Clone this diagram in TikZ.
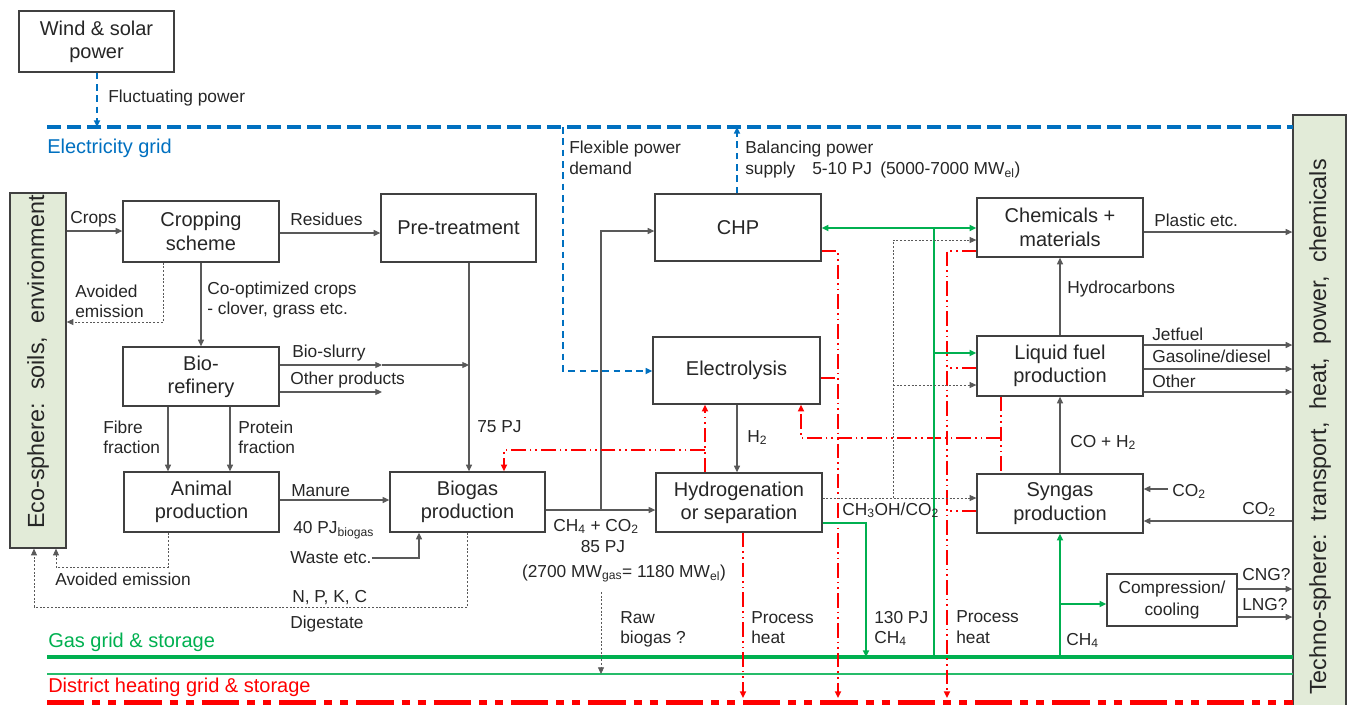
\documentclass[tikz,border=0pt]{standalone}
\usepackage{fontspec}
\setmainfont{Liberation Sans}
\usetikzlibrary{arrows.meta}
\definecolor{eblue}{HTML}{0070C0}
\definecolor{egreen}{HTML}{00B050}
\definecolor{ered}{HTML}{FF0000}
\definecolor{efill}{HTML}{E2EBD8}
\definecolor{etext}{HTML}{262626}
\definecolor{eline}{HTML}{595959}
\tikzset{
  box/.style={draw=black!75, line width=1pt, fill=white, inner sep=0pt, align=center,
    font=\fontsize{15}{17.5}\selectfont, text=etext},
  sphere/.style={box, fill=efill},
  lbl/.style={inner sep=0pt, anchor=base west, font=\fontsize{13}{15}\selectfont, text=etext},
  glbl/.style={inner sep=0pt, anchor=base west, font=\fontsize{15}{18}\selectfont},
  ln/.style={draw=eline, line width=0.8pt},
  arr/.style={-{Triangle[length=5pt,width=4.5pt]}},
  dotln/.style={draw=eline, line width=0.6pt, dash pattern=on 1.5pt off 1.3pt},
  blued/.style={draw=eblue, line width=1.2pt, dash pattern=on 5pt off 3.5pt},
  redd/.style={draw=ered, line width=1.5pt, dash pattern=on 11pt off 3pt on 1.2pt off 3pt on 1.2pt off 3pt},
  greenl/.style={draw=egreen, line width=1.5pt},
}
\begin{document}
\begin{tikzpicture}[x=0.75pt,y=-0.75pt]
\useasboundingbox (0,0) rectangle (1350,704);
\clip (0,0) rectangle (1350,704);

% ---------- boxes ----------
\node[box, minimum width=116.25pt, minimum height=45.75pt] (wind) at (96.5,41.5) {Wind \& solar\\power};
\node[box, minimum width=117pt, minimum height=45.75pt] (crop) at (201,231.5) {Cropping\\scheme};
\node[box, minimum width=116.25pt, minimum height=51pt] (pre) at (458.5,228) {Pre-treatment};
\node[box, minimum width=124.5pt, minimum height=50.25pt] (chp) at (738,227.5) {CHP};
\node[box, minimum width=124.5pt, minimum height=44.25pt] (chem) at (1060,227.5) {Chemicals +\\materials};
\node[box, minimum width=117pt, minimum height=44.25pt] (bioref) at (201,376.5) {Bio-\\refinery};
\node[box, minimum width=125.25pt, minimum height=50.25pt] (elec) at (736.5,370.5) {Electrolysis};
\node[box, minimum width=124.5pt, minimum height=45pt] (liquid) at (1060,366) {Liquid fuel\\production};
\node[box, minimum width=116.25pt, minimum height=45pt] (animal) at (201.5,502) {Animal\\production};
\node[box, minimum width=116.25pt, minimum height=45pt] (biogas) at (467.5,502) {Biogas\\production};
\node[box, minimum width=124.5pt, minimum height=44.25pt] (hydro) at (739,502.5) {Hydrogenation\\or separation};
\node[box, minimum width=124.5pt, minimum height=44.25pt] (syngas) at (1060,503.5) {Syngas\\production};
\node[box, minimum width=97.5pt, minimum height=39pt, font=\fontsize{13}{16}\selectfont] (comp) at (1172,600) {Compression/\\cooling};
\node[sphere, minimum width=42pt, minimum height=266.25pt] (eco) at (38,370.5) {};
\node[rotate=90, font=\fontsize{17.5}{20}\selectfont, text=etext] (ecot) at (38,362) {Eco-sphere:\ \ soils,\ \ environment};
\node[sphere, minimum width=39.75pt, minimum height=446.25pt] (techno) at (1319.5,412.5) {};
\node[rotate=90, font=\fontsize{17.5}{20}\selectfont, text=etext] (technot) at (1320,427) {Techno-sphere:\ \ transport,\ \ heat,\ \ power,\ \ chemicals};

% ---------- grids ----------
\coordinate (eg1) at (47,127); \coordinate (eg2) at (1293,127);
\draw[eblue, line width=3pt, dash pattern=on 10.5pt off 4.5pt] (eg1) -- (eg2);
\node[glbl, text=eblue] (egl) at (47,153) {Electricity grid};
\coordinate (gg1) at (47,657); \coordinate (gg2) at (1293,657);
\draw[egreen, line width=3pt] (gg1) -- (gg2);
\coordinate (gt1) at (47,674); \coordinate (gt2) at (1293,674);
\draw[egreen!85!white, line width=1.6pt] (gt1) -- (gt2);
\node[glbl, text=egreen] (ggl) at (48,647) {Gas grid \& storage};
\coordinate (dh1) at (47,707); \coordinate (dh2) at (1293,707);
\draw[ered, line width=10pt, dash pattern=on 28pt off 6pt on 6pt off 6pt on 6pt off 6pt] (dh1) -- (dh2);
\node[glbl, text=ered] (dhl) at (48,692) {District heating grid \& storage};

% ---------- electricity (blue) ----------
\draw[blued, arr] (wind.south -| 97,0) -- (eg1 -| 97,0);
\node[lbl] at (108,102) {Fluctuating power};
\draw[blued, arr] (eg1 -| 563,0) -- (563,371) -- (elec.west |- 0,371);
\node[lbl] at (569,153) {Flexible power};
\node[lbl] at (569,174) {demand};
\draw[blued, arr] (chp.north -| 737,0) -- (eg1 -| 737,0);
\node[lbl] at (745,153) {Balancing power};
\node[lbl] at (745,174) {supply};
\node[lbl] at (812,174) {5-10 PJ};
\node[lbl] at (880,174) {(5000-7000 MW\textsubscript{el})};

% ---------- left part ----------
\draw[ln, arr] (eco.east |- 0,231) -- (crop.west |- 0,231);
\node[lbl] at (70,223) {Crops};
\draw[ln, arr] (crop.east |- 0,233) -- (pre.west |- 0,233);
\node[lbl] at (290,225) {Residues};
\draw[ln, arr] (crop.south) -- (bioref.north);
\node[lbl] at (207,294) {Co-optimized crops};
\node[lbl] at (207,314) {- clover, grass etc.};
\draw[dotln, arr] (crop.south -| 163,0) -- (163,322) -- (eco.east |- 0,322);
\node[lbl] at (75,297) {Avoided};
\node[lbl] at (75,317) {emission};
\draw[ln, arr] (bioref.east |- 0,365) -- (382,365);
\draw[ln, arr] (382,365) -- (469,365);
\node[lbl] at (292,357) {Bio-slurry};
\draw[ln, arr] (bioref.east |- 0,392) -- (382,392);
\node[lbl] at (290,384) {Other products};
\draw[ln, arr] (pre.south -| 469,0) -- (biogas.north -| 469,0);
\node[lbl] at (477,432) {75 PJ};
\draw[ln, arr] (bioref.south -| 168,0) -- (animal.north -| 168,0);
\draw[ln, arr] (bioref.south -| 230,0) -- (animal.north -| 230,0);
\node[lbl] at (103,433) {Fibre};
\node[lbl] at (103,453) {fraction};
\node[lbl] at (238,433) {Protein};
\node[lbl] at (238,453) {fraction};
\draw[ln, arr] (animal.east |- 0,500) -- (biogas.west |- 0,500);
\node[lbl] at (291,496) {Manure};
\node[lbl] at (293,533) {40 PJ\textsubscript{biogas}};
\node[lbl] (waste) at (290,563) {Waste etc.};
\draw[ln, arr] (waste.east |- 0,558) -- (419,558) -- (biogas.south -| 419,0);
\draw[dotln, arr] (animal.south -| 168,0) -- (168,567) -- (56,567) -- (eco.south -| 56,0);
\node[lbl] at (55,585) {Avoided emission};
\draw[dotln, arr] (biogas.south) -- (biogas.south |- 0,607) -- (34,607) -- (eco.south -| 34,0);
\node[lbl] at (292,602) {N, P, K, C};
\node[lbl] at (290,628) {Digestate};

% ---------- biogas outputs ----------
\draw[ln, arr] (biogas.east |- 0,510) -- (hydro.west |- 0,510);
\draw[ln, arr] (601,510) -- (601,231) -- (chp.west |- 0,231);
\node[lbl] at (553,531) {CH\textsubscript{4} + CO\textsubscript{2}};
\node[lbl, anchor=base] at (603,552) {85 PJ};
\node[lbl, anchor=base] at (624,577) {(2700 MW\textsubscript{gas}= 1180 MW\textsubscript{el})};
\draw[dotln, arr] (601,592) -- (gt1 -| 601,0);
\node[lbl] at (620,623) {Raw};
\node[lbl] at (620,643) {biogas ?};
\draw[ln, arr] (elec.south -| 737,0) -- (hydro.north -| 737,0);
\node[lbl] at (747,442) {H\textsubscript{2}};

% ---------- heat (red) ----------
\draw[redd, arr] (hydro.north -| 705,0) -- (elec.south -| 705,0);
\draw[redd, arr] (705,450) -- (504,450) -- (biogas.north -| 504,0);
\draw[redd] (liquid.south -| 1001,0) -- (syngas.north -| 1001,0);
\draw[redd, arr] (1001,438) -- (801,438) -- (elec.south -| 801,0);
\draw[redd, arr] (chp.east |- 0,251) -- (838,251) -- (838,698);
\draw[redd] (elec.east |- 0,378) -- (838,378);
\draw[redd, arr] (hydro.south -| 743,0) -- (743,698);
\node[lbl] at (751,623) {Process};
\node[lbl] at (751,643) {heat};
\draw[redd, arr] (chem.west |- 0,251) -- (947,251) -- (947,698);
\draw[redd] (liquid.west |- 0,368) -- (947,368);
\draw[redd] (syngas.west |- 0,511) -- (947,511);
\node[lbl] at (956,622) {Process};
\node[lbl] at (956,643) {heat};

% ---------- methane (green) ----------
\draw[greenl, arr] (gg1 -| 934,0) -- (934,228) -- (chem.west |- 0,228);
\draw[greenl, arr] (934,228) -- (chp.east |- 0,228);
\draw[greenl, arr] (934,353) -- (liquid.west |- 0,353);
\draw[greenl, arr] (hydro.east |- 0,523) -- (866,523) -- (gg1 -| 866,0);
\node[lbl] at (874,623) {130 PJ};
\node[lbl] at (874,643) {CH\textsubscript{4}};
\draw[greenl, arr] (gg1 -| 1060,0) -- (syngas.south);
\draw[greenl, arr] (1060,604) -- (comp.west |- 0,604);
\node[lbl] at (1066,645) {CH\textsubscript{4}};

% ---------- methanol (dotted) ----------
\draw[dotln, arr] (hydro.east |- 0,498) -- (syngas.west |- 0,498);
\draw[dotln, arr] (893,498) -- (893,240) -- (chem.west |- 0,240);
\draw[dotln, arr] (893,385) -- (liquid.west |- 0,385);
\node[lbl] at (842,515) {CH\textsubscript{3}OH/CO\textsubscript{2}};

% ---------- right part ----------
\draw[ln, arr] (chem.east |- 0,232) -- (techno.west |- 0,232);
\node[lbl] at (1154,226) {Plastic etc.};
\draw[ln, arr] (liquid.north) -- (chem.south);
\node[lbl] at (1067,293) {Hydrocarbons};
\draw[ln, arr] (liquid.east |- 0,345) -- (techno.west |- 0,345);
\draw[ln, arr] (liquid.east |- 0,369) -- (techno.west |- 0,369);
\draw[ln, arr] (liquid.east |- 0,392) -- (techno.west |- 0,392);
\node[lbl] at (1152,340) {Jetfuel};
\node[lbl] at (1152,362) {Gasoline/diesel};
\node[lbl] at (1152,387) {Other};
\draw[ln, arr] (syngas.north) -- (liquid.south);
\node[lbl] at (1070,447) {CO + H\textsubscript{2}};
\node[lbl] (co2a) at (1172,496) {CO\textsubscript{2}};
\draw[ln, arr] (co2a.west |- 0,489) ++(-4,0) -- (syngas.east |- 0,489);
\draw[ln, arr] (techno.west |- 0,521) -- (syngas.east |- 0,521);
\node[lbl] at (1242,514) {CO\textsubscript{2}};
\draw[ln, arr] (comp.east |- 0,589) -- (techno.west |- 0,589);
\draw[ln, arr] (comp.east |- 0,617) -- (techno.west |- 0,617);
\node[lbl] at (1242,580) {CNG?};
\node[lbl] at (1242,610) {LNG?};
\end{tikzpicture}
\end{document}
